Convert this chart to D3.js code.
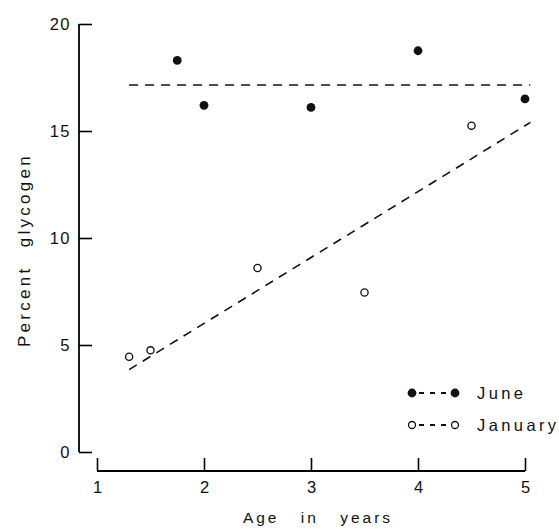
<!DOCTYPE html>
<html>
<head>
<meta charset="utf-8">
<script src="https://cdn.jsdelivr.net/npm/d3@7"></script>
<style>
  body { margin: 0; background: #fff; }
  text { font-family: "Liberation Sans", Arial, sans-serif; fill: #111; }
</style>
</head>
<body>
<div id="chart"></div>
<script>
// data
var ageJune = [1.75, 2, 3, 4, 5];
var pctJune = [18.3, 16.2, 16.1, 18.75, 16.5];
var ageJan = [1.3, 1.5, 2.5, 3.5, 4.5];
var pctJan = [4.45, 4.75, 8.6, 7.45, 15.25];
// fitted lines (end points)
var fitJune = [{x: 1.3, y: 17.15}, {x: 5.05, y: 17.15}];
var fitJan = [{x: 1.3, y: 3.85}, {x: 5.05, y: 15.4}];
var xTicks = [1, 2, 3, 4, 5];
var yTicks = [0, 5, 10, 15, 20];
var legendItems = ["June", "January"];

var width = 559, height = 529;

var svg = d3.select("#chart")
  .append("svg")
    .attr("width", width)
    .attr("height", height);

var x = d3.scaleLinear().domain([1, 5]).range([97, 525]);
var y = d3.scaleLinear().domain([0, 20]).range([452, 24]);

// Y axis (ticks pointing inward)
var yAxis = svg.append("g")
  .attr("transform", "translate(79,0)")
  .call(d3.axisRight(y).tickValues(yTicks).tickSize(13).tickFormat(d3.format("d")));
yAxis.select(".domain").attr("d", "M0," + y(20) + "V" + y(0)).attr("stroke-width", 1.8);
yAxis.selectAll(".tick line").attr("stroke-width", 1.6);
yAxis.selectAll(".tick text")
  .attr("x", -8).attr("text-anchor", "end")
  .attr("font-size", 16.5).attr("letter-spacing", 1.5).attr("dy", "0.36em");

// X axis (ticks pointing up)
var xAxis = svg.append("g")
  .attr("transform", "translate(0,471)")
  .call(d3.axisBottom(x).tickValues(xTicks).tickSize(0).tickFormat(d3.format("d")));
xAxis.select(".domain").attr("d", "M" + x(1) + ",0H" + x(5)).attr("stroke-width", 1.8);
xAxis.selectAll(".tick line").attr("y2", -13).attr("stroke-width", 1.6);
xAxis.selectAll(".tick text")
  .attr("y", 10).attr("dy", "0.71em").attr("font-size", 16.5);

// axis titles
svg.append("text")
  .attr("x", 318).attr("y", 523)
  .attr("text-anchor", "middle")
  .attr("font-size", 15.5)
  .attr("letter-spacing", 3)
  .attr("word-spacing", 14)
  .text("Age in years");

svg.append("text")
  .attr("transform", "translate(30,250) rotate(-90)")
  .attr("text-anchor", "middle")
  .attr("font-size", 17)
  .attr("letter-spacing", 3.3)
  .attr("word-spacing", 10)
  .text("Percent glycogen");

// fitted lines
var line = d3.line().x(function(d) { return x(d.x); }).y(function(d) { return y(d.y); });
[fitJune, fitJan].forEach(function(f) {
  svg.append("path")
    .attr("d", line(f))
    .attr("fill", "none")
    .attr("stroke", "#111")
    .attr("stroke-width", 1.6)
    .attr("stroke-dasharray", "9,7");
});

// June points (filled)
svg.selectAll(".june")
  .data(ageJune)
  .enter().append("circle")
    .attr("cx", function(d) { return x(d); })
    .attr("cy", function(d, i) { return y(pctJune[i]); })
    .attr("r", 4.4)
    .attr("fill", "#111");

// January points (open)
svg.selectAll(".jan")
  .data(ageJan)
  .enter().append("circle")
    .attr("cx", function(d) { return x(d); })
    .attr("cy", function(d, i) { return y(pctJan[i]); })
    .attr("r", 3.6)
    .attr("fill", "#fff")
    .attr("stroke", "#111")
    .attr("stroke-width", 1.3);

// legend
var legend = svg.append("g");
legendItems.forEach(function(name, i) {
  var ly = 393 + i * 32;
  legend.append("line")
    .attr("x1", 419).attr("x2", 446)
    .attr("y1", ly).attr("y2", ly)
    .attr("stroke", "#111").attr("stroke-width", 1.8)
    .attr("stroke-dasharray", "5,6");
  [412, 455].forEach(function(cx) {
    legend.append("circle")
      .attr("cx", cx).attr("cy", ly)
      .attr("r", i === 0 ? 4.4 : 3.5)
      .attr("fill", i === 0 ? "#111" : "#fff")
      .attr("stroke", "#111")
      .attr("stroke-width", i === 0 ? 0 : 1.3);
  });
  legend.append("text")
    .attr("x", 477).attr("y", ly).attr("dy", "0.36em")
    .attr("font-size", 16.5)
    .attr("letter-spacing", 3.4)
    .text(name);
});
</script>
</body>
</html>
